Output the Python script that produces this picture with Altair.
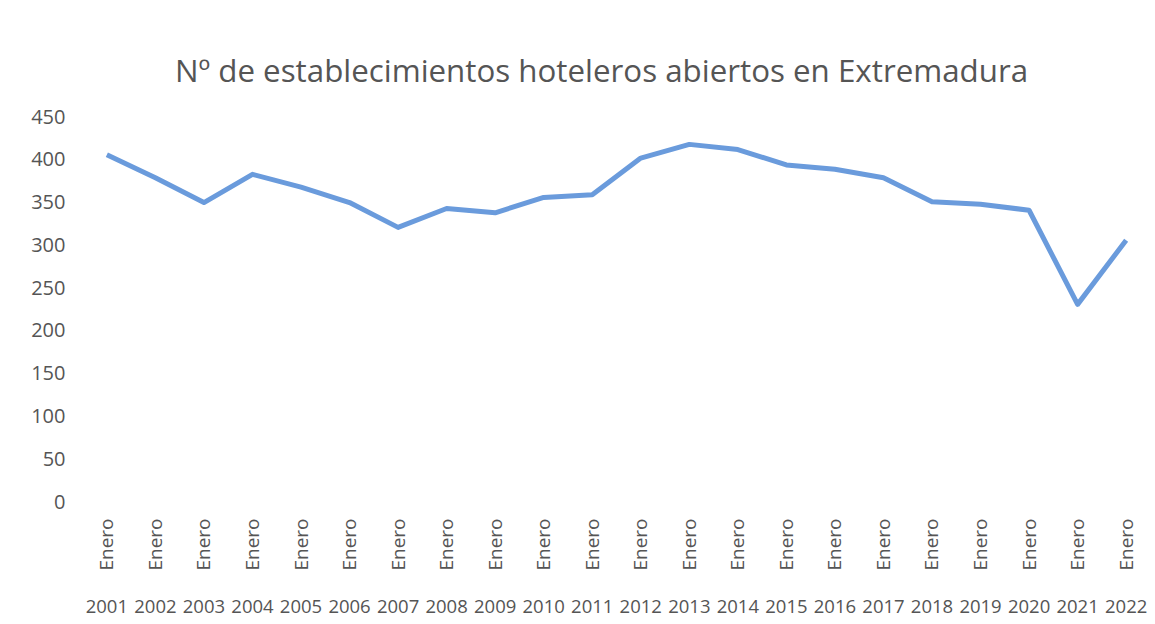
import altair as alt
import pandas as pd

years = ["2001", "2002", "2003", "2004", "2005", "2006", "2007", "2008", "2009", "2010", "2011",
         "2012", "2013", "2014", "2015", "2016", "2017", "2018", "2019", "2020", "2021", "2022"]
values = [406, 379, 350, 383, 368, 350, 321, 343, 338, 356, 359,
          402, 418, 412, 394, 389, 379, 351, 348, 341, 231, 306]
month = "Enero"

df = pd.DataFrame({"year": years, "value": values})
df["cat"] = [month + "|" + y for y in years]

FONT = "Open Sans"
GREY = "#555555"

x_enc = alt.X("cat:N", sort=None, scale=alt.Scale(type="point", padding=0.1),
              axis=alt.Axis(title=None, labelExpr="split(datum.value, '|')[0]", labelAngle=270,
                            labelFont=FONT, labelFontSize=19, labelColor=GREY, labelPadding=16,
                            domain=False, ticks=False, grid=False))

line = alt.Chart(df).mark_line(color="#6a9bdc", strokeWidth=5, strokeJoin="round").encode(
    x=x_enc,
    y=alt.Y("value:Q", scale=alt.Scale(domain=[0, 450]),
            axis=alt.Axis(title=None, values=list(range(0, 451, 50)), labelFont=FONT,
                          labelFontSize=20, labelColor=GREY, labelPadding=37,
                          domain=False, ticks=False, grid=False)),
)

year_text = alt.Chart(df).mark_text(font=FONT, fontSize=18.5, color=GREY, baseline="middle",
                                    align="center").encode(
    x=alt.X("cat:N", sort=None),
    y=alt.value(490),
    text="year:N",
)

chart = alt.layer(line, year_text).properties(
    width=1029, height=385,
    autosize=alt.AutoSizeParams(type="none"),
    padding={"left": 94, "top": 109, "right": 16, "bottom": 120},
    title=alt.TitleParams("Nº de establecimientos hoteleros abiertos en Extremadura",
                          font=FONT, fontSize=31.3, fontWeight="normal", color=GREY,
                          anchor="middle", offset=19, dx=-15),
).configure(background="white").configure_view(stroke="transparent", strokeWidth=0)

chart.save("out.html", embed_options={"renderer": "svg", "actions": False})
